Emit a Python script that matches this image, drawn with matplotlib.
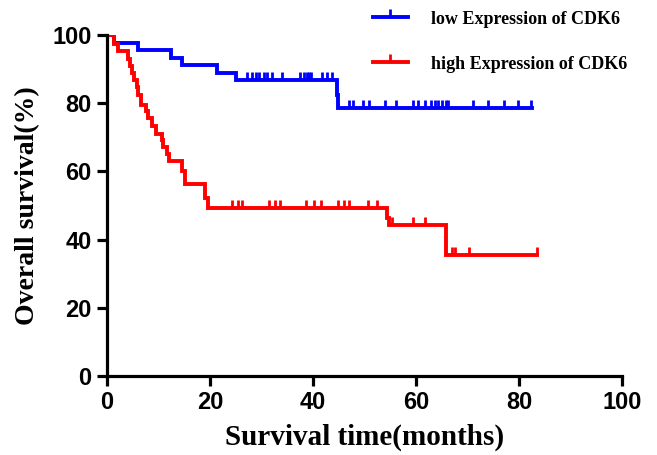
import numpy as np
import matplotlib
matplotlib.use('Agg')
import matplotlib.pyplot as plt
from matplotlib.lines import Line2D

# step curves: event times (months) and survival (%) after each step
low_times = [0, 1.4, 6.1, 12.4, 14.5, 21.3, 25.0, 44.6, 44.9]
low_surv = [100, 97.8, 95.6, 93.4, 91.1, 88.9, 86.7, 82.5, 78.6]
low_end = 82.5
low_censor = [27.1, 28.1, 28.9, 29.6, 30.4, 31.0, 32.0, 33.9, 37.5, 38.2, 38.8,
              39.3, 39.7, 41.7, 42.7, 43.6, 46.9, 47.8, 49.8, 50.9, 54.0, 56.2,
              59.5, 60.3, 61.7, 63.0, 63.7, 64.3, 65.0, 65.8, 66.3, 71.1, 74.0,
              77.0, 79.9, 82.3]

high_times = [0, 1.3, 2.1, 4.0, 4.5, 4.9, 5.3, 5.8, 6.1, 6.6, 7.5, 7.9, 8.7,
              9.5, 10.6, 10.9, 11.6, 12.1, 14.6, 15.1, 19.0, 19.7, 54.3, 54.8,
              65.8]
high_surv = [100, 97.4, 95.2, 93.0, 90.8, 88.9, 86.8, 84.7, 82.5, 79.5, 77.7,
             75.6, 73.4, 71.0, 69.2, 67.2, 65.2, 63.0, 60.2, 56.2, 52.2, 49.2,
             46.4, 44.3, 35.6]
high_end = 83.5
high_censor = [24.3, 25.4, 26.3, 31.5, 32.6, 33.6, 38.6, 40.1, 41.5, 44.9, 46.0,
               46.9, 50.7, 52.4, 55.3, 59.5, 61.7, 67.0, 67.6, 70.2, 83.4]

labels = ['low Expression of CDK6', 'high Expression of CDK6']
colors = ['#0000ff', '#ff0000']

fig = plt.figure(figsize=(6.57, 4.55), dpi=100)
ax = fig.add_axes([107/657, 79/455, 515/657, 341/455])

def draw(times, surv, end, cens, color):
    t = list(times) + [end]
    s = list(surv) + [surv[-1]]
    ax.step(t, s, where='post', color=color, lw=2.8, solid_joinstyle='miter')
    idx = np.searchsorted(times, cens, side='right') - 1
    ys = np.array(surv)[idx]
    ax.plot(cens, ys, ls='none', marker=2, ms=6, mew=2, color=color)

draw(low_times, low_surv, low_end, low_censor, colors[0])
draw(high_times, high_surv, high_end, high_censor, colors[1])

ax.set_xlim(0, 100)
ax.set_ylim(0, 100)
ax.set_xticks([0, 20, 40, 60, 80, 100])
ax.set_yticks([0, 20, 40, 60, 80, 100])
for sp in ['top', 'right']:
    ax.spines[sp].set_visible(False)
for sp in ['left', 'bottom']:
    ax.spines[sp].set_linewidth(2.3)
ax.tick_params(direction='out', length=7, width=2.3, pad=4)
for lab in ax.get_xticklabels() + ax.get_yticklabels():
    lab.set_fontfamily('Liberation Sans')
    lab.set_fontweight('bold')
    lab.set_fontsize(17)

ax.set_xlabel('Survival time(months)', family='Liberation Serif',
              weight='bold', fontsize=21, labelpad=7)
ax.set_ylabel('Overall survival(%)', family='Liberation Serif',
              weight='bold', fontsize=20, labelpad=9)

handles = [Line2D([], [], color=c, lw=2.8, marker=2, ms=6, mew=2) for c in colors]
leg = fig.legend(handles, labels, loc='upper left', bbox_to_anchor=(357/657, 1.012),
                 frameon=False, handlelength=1.9, handletextpad=1.3,
                 labelspacing=1.55, numpoints=1,
                 prop={'family': 'Liberation Serif', 'weight': 'bold', 'size': 13})

fig.savefig('out.png', dpi=100)
